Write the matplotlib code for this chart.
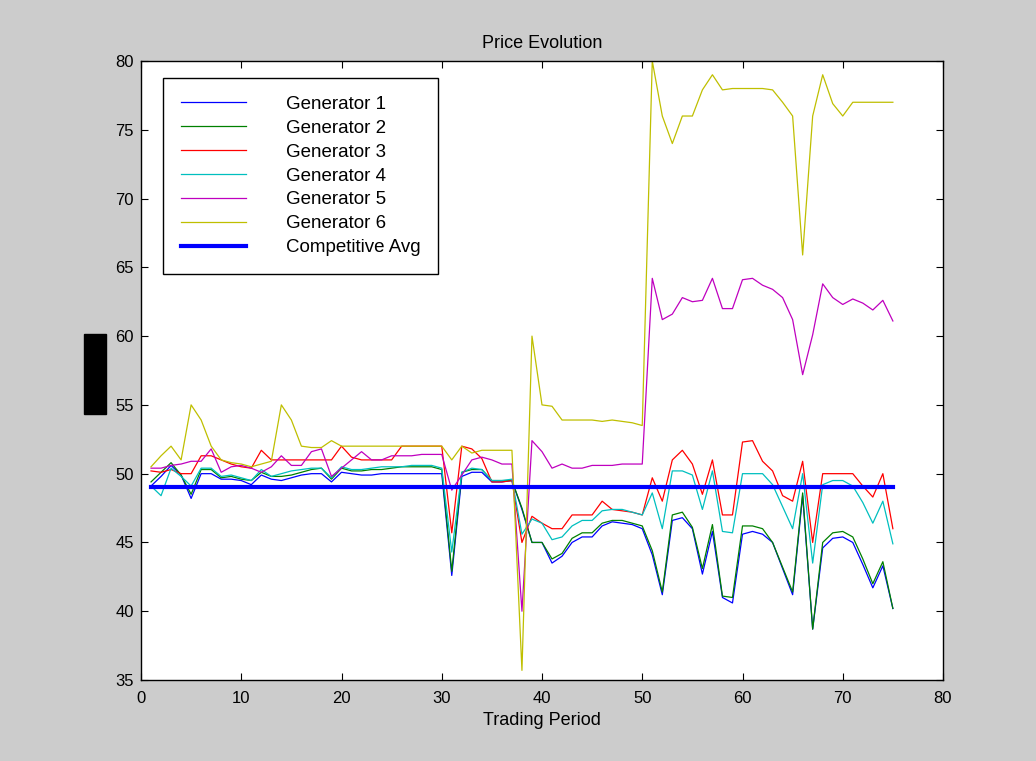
import numpy as np
import matplotlib
matplotlib.use('Agg')
import matplotlib.pyplot as plt
from matplotlib.patches import Rectangle

plt.rcParams['font.family'] = ['Liberation Sans', 'DejaVu Sans']

# trading periods 1..75
periods = list(range(1, 76))

gen1 = [49.1, 49.8, 50.6, 49.9, 48.2, 50.0, 50.0, 49.6, 49.6, 49.5,
        49.2, 49.9, 49.6, 49.5, 49.7, 49.9, 50.0, 50.0, 49.4, 50.1,
        50.0, 49.9, 49.9, 50.0, 50.0, 50.0, 50.0, 50.0, 50.0, 50.0,
        42.6, 49.8, 50.1, 50.1, 49.4, 49.4, 49.5, 47.4, 45.0, 45.0,
        43.5, 44.0, 45.0, 45.4, 45.4, 46.2, 46.5, 46.4, 46.3, 46.0,
        44.1, 41.2, 46.6, 46.8, 46.0, 42.7, 45.8, 41.0, 40.6, 45.6,
        45.8, 45.6, 45.0, 43.1, 41.2, 48.4, 38.7, 44.6, 45.3, 45.4,
        45.0, 43.4, 41.7, 43.3, 40.2]

gen2 = [49.4, 50.1, 50.8, 49.9, 48.5, 50.3, 50.3, 49.7, 49.8, 49.6,
        49.5, 50.1, 49.8, 49.8, 49.9, 50.1, 50.3, 50.4, 49.6, 50.4,
        50.2, 50.2, 50.3, 50.3, 50.4, 50.5, 50.5, 50.5, 50.5, 50.3,
        42.9, 50.1, 50.3, 50.3, 49.5, 49.5, 49.5, 47.5, 45.0, 45.0,
        43.8, 44.2, 45.3, 45.7, 45.7, 46.4, 46.6, 46.6, 46.4, 46.2,
        44.4, 41.4, 47.0, 47.2, 46.1, 43.1, 46.3, 41.1, 41.0, 46.2,
        46.2, 46.0, 45.0, 43.2, 41.4, 48.6, 38.7, 45.0, 45.7, 45.8,
        45.4, 43.8, 42.0, 43.6, 40.2]

gen3 = [50.2, 50.1, 50.3, 50.0, 50.0, 51.3, 51.3, 51.0, 50.7, 50.5,
        50.4, 51.7, 51.0, 51.0, 51.0, 51.0, 51.0, 51.0, 51.0, 52.0,
        51.2, 51.0, 51.0, 51.0, 51.0, 52.0, 52.0, 52.0, 52.0, 52.0,
        45.7, 52.0, 51.8, 51.1, 49.4, 49.4, 49.5, 45.0, 46.9, 46.4,
        46.0, 46.0, 47.0, 47.0, 47.0, 48.0, 47.4, 47.3, 47.2, 47.0,
        49.7, 48.0, 51.0, 51.7, 50.7, 48.5, 51.0, 47.0, 47.0, 52.3,
        52.4, 50.9, 50.2, 48.4, 48.0, 50.9, 45.0, 50.0, 50.0, 50.0,
        50.0, 49.1, 48.3, 50.0, 46.0]

gen4 = [49.1, 48.4, 50.4, 49.8, 49.1, 50.4, 50.4, 49.8, 49.9, 49.7,
        49.5, 50.3, 49.8, 50.0, 50.2, 50.3, 50.4, 50.4, 49.7, 50.5,
        50.3, 50.3, 50.4, 50.5, 50.5, 50.5, 50.6, 50.6, 50.6, 50.4,
        44.3, 50.1, 50.4, 50.3, 49.5, 49.5, 49.6, 45.6, 46.7, 46.4,
        45.2, 45.4, 46.2, 46.6, 46.6, 47.3, 47.4, 47.4, 47.2, 47.0,
        48.6, 46.0, 50.2, 50.2, 49.9, 47.4, 50.2, 45.8, 45.7, 50.0,
        50.0, 50.0, 49.2, 47.6, 46.0, 50.0, 43.5, 49.2, 49.5, 49.5,
        49.1, 47.9, 46.4, 48.0, 44.9]

gen5 = [50.4, 50.4, 50.6, 50.7, 50.9, 50.9, 51.8, 50.1, 50.5, 50.6,
        50.4, 50.1, 50.5, 51.3, 50.6, 50.6, 51.6, 51.8, 49.8, 50.4,
        51.0, 51.6, 51.0, 51.0, 51.3, 51.3, 51.3, 51.4, 51.4, 51.4,
        48.8, 49.9, 51.0, 51.2, 51.0, 50.7, 50.7, 40.0, 52.4, 51.6,
        50.4, 50.7, 50.4, 50.4, 50.6, 50.6, 50.6, 50.7, 50.7, 50.7,
        64.2, 61.2, 61.6, 62.8, 62.5, 62.6, 64.2, 62.0, 62.0, 64.1,
        64.2, 63.7, 63.4, 62.8, 61.2, 57.2, 60.1, 63.8, 62.8, 62.3,
        62.7, 62.4, 61.9, 62.6, 61.1]

gen6 = [50.5, 51.3, 52.0, 51.0, 55.0, 53.9, 52.0, 51.0, 50.8, 50.7,
        50.5, 50.7, 50.9, 55.0, 53.9, 52.0, 51.9, 51.9, 52.4, 52.0,
        52.0, 52.0, 52.0, 52.0, 52.0, 52.0, 52.0, 52.0, 52.0, 52.0,
        51.0, 52.0, 51.5, 51.7, 51.7, 51.7, 51.7, 35.7, 60.0, 55.0,
        54.9, 53.9, 53.9, 53.9, 53.9, 53.8, 53.9, 53.8, 53.7, 53.5,
        80.0, 76.0, 74.0, 76.0, 76.0, 77.9, 79.0, 77.9, 78.0, 78.0,
        78.0, 78.0, 77.9, 77.0, 76.0, 65.9, 76.0, 79.0, 76.9, 76.0,
        77.0, 77.0, 77.0, 77.0, 77.0]

comp_avg = 49.0

labels = ['Generator 1', 'Generator 2', 'Generator 3',
          'Generator 4', 'Generator 5', 'Generator 6']
# old matlab line colours
colors = [(0, 0, 1), (0, 0.5, 0), (1, 0, 0),
          (0, 0.75, 0.75), (0.75, 0, 0.75), (0.75, 0.75, 0)]

fig = plt.figure(figsize=(10.36, 7.61), dpi=100, facecolor='#cccccc')
ax = fig.add_axes([141/1036, 81/761, 802/1036, 619/761])
ax.set_facecolor('white')

for y, lab, c in zip([gen1, gen2, gen3, gen4, gen5, gen6], labels, colors):
    ax.plot(periods, y, color=c, linewidth=0.9, label=lab)
ax.plot(periods, [comp_avg]*len(periods), color=(0, 0, 1), linewidth=3,
        label='Competitive Avg')

ax.set_xlim(0, 80)
ax.set_ylim(35, 80)
ax.set_xticks(np.arange(0, 81, 10))
ax.set_yticks(np.arange(35, 81, 5))
ax.tick_params(direction='in', length=5, width=0.8, top=True, right=True,
               labelsize=12, colors='black')
ax.tick_params(axis='x', pad=8)
ax.tick_params(axis='y', pad=5)
for s in ax.spines.values():
    s.set_linewidth(1.0)

ax.set_title('Price Evolution', fontsize=13, pad=9)
ax.set_xlabel('Trading Period', fontsize=13, labelpad=4)

leg = ax.legend(loc='upper left', bbox_to_anchor=(22/802, 1 - 17/619),
                borderaxespad=0, fontsize=13.5, handlelength=3.5,
                handletextpad=2.1, borderpad=0.95, labelspacing=0.36,
                fancybox=False, framealpha=1)
leg.get_frame().set_edgecolor('black')
leg.get_frame().set_linewidth(1.0)

# black block where the y label sits
fig.patches.append(Rectangle((84/1036, (761-414)/761), 22/1036, 80/761,
                             transform=fig.transFigure, color='black'))

fig.savefig('out.png', dpi=100, facecolor=fig.get_facecolor())
